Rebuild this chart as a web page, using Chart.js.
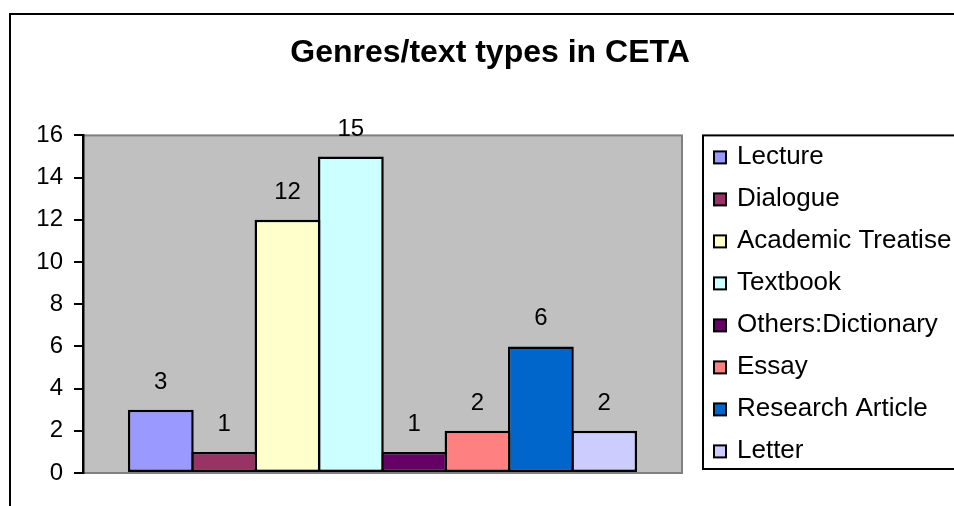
<!DOCTYPE html>
<html><head><meta charset="utf-8">
<script src="https://cdn.jsdelivr.net/npm/chart.js@4.4.1/dist/chart.umd.min.js"></script>
<style>
html,body{margin:0;padding:0;background:#fff;overflow:hidden;width:954px;height:506px;}
#frame{position:absolute;left:9px;top:13px;width:1200px;height:800px;border:2px solid #000;box-sizing:border-box;}
#c{position:absolute;left:0;top:0;}
</style></head><body>
<div id="frame"></div>
<canvas id="c" width="954" height="506"></canvas>
<script>
// ---- data ----
const chartTitle = 'Genres/text types in CETA';
const categories = [''];
const seriesNames = ['Lecture','Dialogue','Academic Treatise','Textbook','Others:Dictionary','Essay','Research Article','Letter'];
const seriesValues = [3, 1, 12, 15, 1, 2, 6, 2];
const yMin = 0, yMax = 16, yStep = 2;
// ---- styles ----
const seriesColors = ['#9999FF','#993366','#FFFFCC','#CCFFFF','#660066','#FF8080','#0066CC','#CCCCFF'];
const FONT = "'Liberation Sans', Arial, sans-serif";

const plotFrame = {
  id: 'plotFrame',
  beforeDraw(chart) {
    const {ctx, chartArea: a} = chart;
    ctx.save();
    ctx.fillStyle = '#C0C0C0';
    ctx.fillRect(a.left, a.top, a.right - a.left, a.bottom - a.top);
    ctx.strokeStyle = '#808080';
    ctx.lineWidth = 2;
    ctx.strokeRect(a.left, a.top, a.right - a.left, a.bottom - a.top);
    ctx.restore();
  }
};

const valueLabels = {
  id: 'valueLabels',
  afterDatasetsDraw(chart) {
    const ctx = chart.ctx;
    ctx.save();
    ctx.font = '24px ' + FONT;
    ctx.fillStyle = '#000';
    ctx.textAlign = 'center';
    ctx.textBaseline = 'alphabetic';
    chart.data.datasets.forEach((ds, i) => {
      const el = chart.getDatasetMeta(i).data[0];
      ctx.fillText(String(ds.data[0]), el.x, el.y - 21);
    });
    ctx.restore();
  }
};

const boxLegend = {
  id: 'boxLegend',
  afterDraw(chart) {
    const {ctx, chartArea: a} = chart;
    const left = a.right + 21, top = a.top, bottom = a.bottom - 4;
    ctx.save();
    ctx.fillStyle = '#fff';
    ctx.fillRect(left, top, 400, bottom - top);
    ctx.strokeStyle = '#000';
    ctx.lineWidth = 2;
    ctx.strokeRect(left, top, 400, bottom - top);
    ctx.font = '26px ' + FONT;
    ctx.textBaseline = 'alphabetic';
    ctx.textAlign = 'left';
    chart.data.datasets.forEach((ds, i) => {
      const base = top + 29 + i * 42;
      ctx.fillStyle = ds.backgroundColor;
      ctx.fillRect(left + 11, base - 13, 12, 12);
      ctx.lineWidth = 2;
      ctx.strokeStyle = '#000';
      ctx.strokeRect(left + 11, base - 13, 12, 12);
      ctx.fillStyle = '#000';
      ctx.fillText(ds.label, left + 34, base);
    });
    ctx.restore();
  }
};

new Chart(document.getElementById('c'), {
  type: 'bar',
  data: {
    labels: categories,
    datasets: seriesNames.map((name, i) => ({
      label: name,
      data: [seriesValues[i]],
      backgroundColor: seriesColors[i],
      borderColor: '#000',
      borderWidth: 2.5,
      borderSkipped: false,
      categoryPercentage: 0.846,
      barPercentage: 1.0395
    }))
  },
  options: {
    responsive: false,
    animation: false,
    devicePixelRatio: 1,
    layout: { padding: { left: 26, right: 0, top: 0, bottom: 33 } },
    plugins: {
      legend: { display: false },
      tooltip: { enabled: false },
      title: {
        display: true,
        text: chartTitle,
        color: '#000',
        font: { family: FONT, size: 32, weight: 'bold' },
        padding: { top: 34, bottom: 63 }
      }
    },
    scales: {
      x: { display: false },
      y: {
        min: yMin, max: yMax,
        ticks: { stepSize: yStep, color: '#000', font: { family: FONT, size: 24 }, padding: 11 },
        grid: { drawOnChartArea: false, drawTicks: true, tickLength: 9, color: '#000', lineWidth: 2 },
        border: { display: true, color: '#000', width: 2.5 },
        afterFit(s) { s.width = 57; }
      },
      yRight: {
        position: 'right',
        display: true,
        ticks: { display: false },
        grid: { display: false, drawTicks: false },
        border: { display: false },
        afterFit(s) { s.width = 272; }
      }
    }
  },
  plugins: [plotFrame, valueLabels, boxLegend]
});
</script>
</body></html>
